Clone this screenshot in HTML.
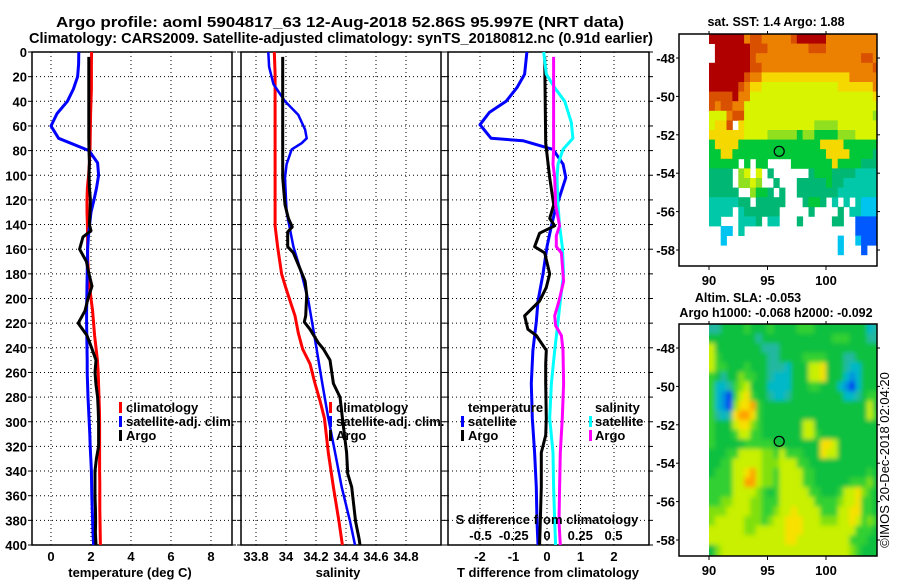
<!DOCTYPE html>
<html><head><meta charset="utf-8">
<style>
html,body{margin:0;padding:0;background:#fff;}
svg{display:block;font-family:"Liberation Sans",Arial,sans-serif;font-weight:bold;}
</style></head>
<body>
<svg id="c" width="900" height="580" viewBox="0 0 900 580" xmlns="http://www.w3.org/2000/svg">
<defs><filter id="soft" x="-5%" y="-5%" width="110%" height="110%"><feGaussianBlur stdDeviation="2.5"/></filter></defs>
<text x="340" y="27" font-size="15" text-anchor="middle" textLength="568" lengthAdjust="spacingAndGlyphs">Argo profile: aoml 5904817_63 12-Aug-2018 52.86S 95.997E (NRT data)</text>
<text x="341" y="43" font-size="15" text-anchor="middle" textLength="624" lengthAdjust="spacingAndGlyphs">Climatology: CARS2009. Satellite-adjusted climatology: synTS_20180812.nc (0.91d earlier)</text>
<g id="g"></g>
</svg>
<script>
// ---------- data ----------
// Panel 1: temperature (deg C)
const tClimDepth=[0,10,20,30,40,50,60,70,80,90,100,110,120,130,140,150,160,170,180,190,200,210,220,230,240,250,260,270,280,290,300,310,320,330,340,350,360,370,380,390,400];
const tClimVal=[2.03,2.02,2.02,2.02,2.0,1.98,1.97,1.96,1.95,1.92,1.88,1.82,1.80,1.80,1.82,1.83,1.83,1.84,1.88,1.93,2.0,2.08,2.13,2.18,2.25,2.32,2.36,2.38,2.40,2.42,2.43,2.43,2.43,2.43,2.43,2.44,2.44,2.44,2.45,2.46,2.47];
const tSatDepth=[0,10,20,30,40,50,60,70,80,90,100,110,120,130,140,150,160,170,180,190,200,210,220,230,240,250,260,270,280,290,300,310,320,330,340,350,360,370,380,390,400];
const tSatVal=[1.39,1.38,1.33,1.12,0.82,0.3,0.0,0.38,1.9,2.33,2.38,2.28,2.15,2.0,1.93,1.87,1.83,1.82,1.81,1.8,1.79,1.78,1.78,1.79,1.8,1.81,1.81,1.83,1.85,1.88,1.91,1.94,1.96,1.99,2.02,2.03,2.04,2.06,2.08,2.1,2.13];
const tArgoDepth=[4,10,20,30,40,50,60,70,80,90,100,110,120,130,140,145,150,160,170,180,190,200,210,220,230,240,250,260,270,280,290,300,310,320,330,340,350,360,370,380,390,400];
const tArgoVal=[1.89,1.89,1.89,1.89,1.89,1.89,1.89,1.89,1.9,1.92,1.9,1.92,1.97,1.95,1.92,2.0,1.6,1.43,1.77,1.9,2.05,1.85,1.7,1.36,1.8,2.03,2.25,2.2,2.25,2.33,2.36,2.38,2.38,2.38,2.27,2.2,2.2,2.2,2.22,2.23,2.22,2.25];
// Panel 2: salinity
const sClimDepth=[0,18,141,158,180,191,202,214,228,241,253,269,283,297,325,353,381,400];
const sClimVal=[33.922,33.927,33.927,33.944,33.971,33.998,34.027,34.06,34.082,34.111,34.16,34.193,34.227,34.256,34.282,34.316,34.353,34.376];
const sSatDepth=[0,12,26,40,51,63,70,74,79,91,102,130,141,158,180,202,225,241,269,297,325,353,381,400];
const sSatVal=[33.882,33.887,33.916,33.993,34.082,34.127,34.138,34.104,34.038,34.004,33.993,34.004,34.022,34.049,34.104,34.149,34.182,34.204,34.242,34.282,34.327,34.371,34.427,34.46];
const sArgoDepth=[4,102,124,135,142,146,158,163,174,186,197,214,219,225,236,241,250,269,280,297,325,342,353,381,395,400];
const sArgoVal=[33.978,33.978,33.993,34.016,34.042,34.011,34.011,34.049,34.087,34.127,34.138,34.131,34.122,34.16,34.216,34.249,34.293,34.316,34.36,34.376,34.404,34.411,34.438,34.464,34.487,34.493];
// Panel 3: differences from climatology
const dTSatDepth=[0,18,29,40,49,59,70,72,79,91,102,113,130,141,158,180,202,219,242,269,297,325,353,381,400];
const dTSatVal=[-0.60,-0.67,-0.90,-1.22,-1.72,-2.0,-1.67,-0.72,0.18,0.48,0.56,0.43,0.23,0.13,0,-0.12,-0.27,-0.32,-0.42,-0.47,-0.44,-0.37,-0.32,-0.30,-0.27];
const dTArgoDepth=[4,74,102,124,135,141,147,158,163,180,191,202,214,225,230,242,253,269,297,311,325,353,381,400];
const dTArgoVal=[-0.07,-0.04,0.08,0.2,0.08,0.23,-0.22,-0.37,-0.07,0.08,-0.02,-0.22,-0.67,-0.57,-0.32,-0.02,-0.04,-0.04,-0.02,-0.04,-0.17,-0.17,-0.2,-0.22];
const dSSatDepth=[0,18,29,40,57,70,79,91,102,124,141,158,180,202,219,242,269,297,325,353,381,400];
const dSSatVal=[-0.025,-0.005,0.058,0.133,0.183,0.195,0.12,0.083,0.075,0.083,0.095,0.115,0.125,0.1,0.083,0.058,0.033,0.02,0.045,0.05,0.058,0.065];
const dSArgoDepth=[4,79,91,102,124,141,149,158,163,186,202,214,222,230,242,269,297,325,353,381,400];
const dSArgoVal=[0.05,0.05,0.045,0.058,0.065,0.095,0.07,0.07,0.108,0.125,0.09,0.058,0.065,0.108,0.12,0.125,0.115,0.1,0.095,0.09,0.1];
// Ticks
const depthTicks=[0,20,40,60,80,100,120,140,160,180,200,220,240,260,280,300,320,340,360,380,400];
const tTicks=[0,2,4,6,8];
const sTicks=[33.8,34,34.2,34.4,34.6,34.8];
const dTTicks=[-2,-1,0,1,2];
const dSTickLabels=["-0.5","-0.25","0","0.25","0.5"];
const dSTicks=[-0.5,-0.25,0,0.25,0.5];
// Maps (0.5 deg cells, lon 90..104.5, lat rows from -46.75 downwards)
const sstRows=[
"AAAAAA899888889AAAAA888888888",
".AAAAAA99988888889998888888888",
".AAAAAA9888888888888888888998",
"AAAAAAA9988888888888888888889",
"AAAAAA98877777777777777788888",
"AAAAA987766666666666667777778",
"9999A886666666666666666666667",
"98998866666666666666666666666",
"66689966666666666666666666665",
"6779.766666666666655556666666",
"77777766665555545544445556666",
"47777444444444444447777444444",
"44774444444444444444777744443",
"44444.4.44....4444444744443333",
"3333.56.6.3......344433332222",
"3333.5565..3...33333433222222",
"33333..5443.3..33333332222222",
"2222233.33333...3443.2.2.2111",
"2222.2333333.....3....3.22111",
"22...2223.22...3.....33..0000",
"..11.2...................0000",
"..1...................1..1000",
"......................1...0..",
"............................."];
const slaRows=[
"33444454445444455544444444423",
"44444444344444444444455544433",
"74444444433344444444444444444",
"75444444443344445555444334444",
"75544454443332444778444322444",
"54344655443222444778444212444",
"52235674442222444554442102444",
"52105785443223444444444223455",
"52106889544444444444444444474",
"53238998544444444444444444475",
"54447886544444447744444444444",
"54445775544444447754444444444",
"54444455555444444448874444444",
"44455777766575554448774444444",
"44557777766677755444444444444",
"45557789766577775544444444454",
"55557799766577775544444455564",
"55557777654577777554445778654",
"55667776655577777755556778554",
"66677776655677877775557788554",
"67777766656778887776667787565",
"77777766777778887777777775554",
"77777777777778877777777755544",
"46777777777777777777777765444"];
const argoLon=96.0, argoLat=-52.86;
const mapLatTicks=[-48,-50,-52,-54,-56,-58];
const mapLonTicks=[90,95,100];

// ---------- drawing ----------
const NS="http://www.w3.org/2000/svg";
const G=document.getElementById('g');
function el(tag,attrs,parent){const e=document.createElementNS(NS,tag);for(const k in attrs)e.setAttribute(k,attrs[k]);(parent||G).appendChild(e);return e;}
function txt(x,y,s,size,anchor,parent){const t=el('text',{x:x,y:y,'font-size':size,'text-anchor':anchor||'middle'},parent);t.textContent=s;return t;}

const Y0=52, Y1=545;
const yD=d=>Y0+(d/400)*(Y1-Y0);
function lin(d0,d1,r0,r1){return v=>r0+(v-d0)/(d1-d0)*(r1-r0);}

const panels=[
 {name:'temperature-panel',x0:32,x1:232,x:lin(0,8,51,211)},
 {name:'salinity-panel',x0:241,x1:441,x:lin(33.8,34.8,256,406)},
 {name:'difference-panel',x0:448,x1:649,x:lin(0,2,547,614)}
];
const xS=lin(0,0.5,547,613.5);

panels.forEach((p,i)=>{
  const g=el('g',{});
  
  
  depthTicks.forEach(d=>{
    const l=el('line',{x1:p.x0,x2:p.x1,y1:yD(d),y2:yD(d),stroke:'#000','stroke-width':1,'stroke-dasharray':'1,3'},g);
    
    
    el('line',{x1:p.x0-4,x2:p.x0,y1:yD(d),y2:yD(d),stroke:'#000'},g);
    el('line',{x1:p.x1,x2:p.x1+4,y1:yD(d),y2:yD(d),stroke:'#000'},g);
  });
  const xt=i===0?tTicks:(i===1?sTicks:dTTicks);
  xt.forEach(v=>{
    const X=p.x(v);
    const l=el('line',{x1:X,x2:X,y1:Y0,y2:Y1,stroke:'#000','stroke-width':1,'stroke-dasharray':'1,3'},g);
    
    
    const t=txt(X,561,String(v),13,'middle',g);
    
    
  });
  const b=el('rect',{x:p.x0,y:Y0,width:p.x1-p.x0,height:Y1-Y0,fill:'none',stroke:'#000','stroke-width':1.5},g);
  
  
});
depthTicks.forEach(d=>{
  const t=txt(27,yD(d)+5,String(d),13,'end');
  
  
});
[['temperature (deg C)',130,'x-axis-title-temperature'],['salinity',338,'x-axis-title-salinity'],['T difference from climatology',548,'x-axis-title-difference']].forEach(a=>{
  const t=txt(a[1],577,a[0],13,'middle');
  
  
});

function series(depths,vals,xf,color,name,w){
  const pts=depths.map((d,k)=>xf(vals[k]).toFixed(1)+','+yD(d).toFixed(1)).join(' ');
  const pl=el('polyline',{points:pts,fill:'none',stroke:color,'stroke-width':w||3,'stroke-linejoin':'round'});
  
  
}
const P=panels;
series(tClimDepth,tClimVal,P[0].x,'#ff0000','temperature-climatology-line');
series(tSatDepth,tSatVal,P[0].x,'#0000ff','temperature-satellite-line');
series(tArgoDepth,tArgoVal,P[0].x,'#000000','temperature-argo-line');
series(sClimDepth,sClimVal,P[1].x,'#ff0000','salinity-climatology-line');
series(sSatDepth,sSatVal,P[1].x,'#0000ff','salinity-satellite-line',2.5);
series(sArgoDepth,sArgoVal,P[1].x,'#000000','salinity-argo-line');
series(dTSatDepth,dTSatVal,P[2].x,'#0000ff','t-diff-satellite-line');
series(dTArgoDepth,dTArgoVal,P[2].x,'#000000','t-diff-argo-line');
series(dSSatDepth,dSSatVal,xS,'#00ffff','s-diff-satellite-line');
series(dSArgoDepth,dSArgoVal,xS,'#ff00ff','s-diff-argo-line');

function legend(mx,tx,y,label,color,name){
  const g=el('g',{});
  
  
  if(color) el('rect',{x:mx,y:y-10,width:3,height:11,fill:color},g);
  txt(tx,y,label,13,'start',g);
}
[[119,126,'climatology','#ff0000'],[119,126,'satellite-adj. clim.','#0000ff'],[119,126,'Argo','#000000']].forEach((a,k)=>legend(a[0],a[1],412+k*14,a[2],a[3],'legend-entry'));
[[329,336,'climatology','#ff0000'],[329,336,'satellite-adj. clim.','#0000ff'],[329,336,'Argo','#000000']].forEach((a,k)=>legend(a[0],a[1],412+k*14,a[2],a[3],'legend-entry'));
legend(0,468,412,'temperature',null,'legend-heading-temperature');
legend(461,468,426,'satellite','#0000ff','legend-entry');
legend(461,468,440,'Argo','#000000','legend-entry');
legend(0,595,412,'salinity',null,'legend-heading-salinity');
legend(589,595,426,'satellite','#00ffff','legend-entry');
legend(589,595,440,'Argo','#ff00ff','legend-entry');
const sdl=txt(547,524,'S difference from climatology',13,'middle');


dSTicks.forEach((v,k)=>{
  const t=txt(xS(v),540,dSTickLabels[k],13,'middle');
  
  
});

// maps
const MX0=679,MX1=877;
const lonX=lin(90,100,709,826);
const sstCol={'0':'#0058ff','1':'#00c4f0','2':'#00c8a8','3':'#00b874','4':'#00c838','5':'#90e020','6':'#d8f400','7':'#f4d800','8':'#ec8000','9':'#d85000','A':'#b00000'};
const slaCol={'0':'#0030f0','1':'#0090e0','2':'#00b8c8','3':'#20b8a0','4':'#10c040','5':'#30d030','6':'#80e010','7':'#c8f000','8':'#f8e000','9':'#ffa000'};
function map(top,rows,cols,name,titles,smooth){
  const latY=lin(-48,-58,top+24,top+216);
  const g=el('g',{});
  
  
  const clip='clip'+top;
  const cp=el('clipPath',{id:clip},g);
  el('rect',{x:lonX(90),y:top,width:MX1-lonX(90),height:232},cp);
  const cg0=el('g',{'clip-path':'url(#'+clip+')'},g);
  const cg=smooth?el('g',{filter:'url(#soft)'},cg0):cg0;
  rows.forEach((r,i)=>{
    const latTop=-46.75-0.5*i;
    for(let j=0;j<29;j++){
      let c=r[j];
      if(smooth){ if(!c) c=r[r.length-1]; }
      if(!c||c==='.'||!cols[c]) continue;
      const lon=90+0.5*j;
      let x=lonX(lon),x2=lonX(lon+0.5),y=latY(latTop),y2=latY(latTop-0.5);
      if(smooth){ if(j===0)x-=8; if(j===28)x2+=8; if(i===0)y-=8; if(i===rows.length-1)y2+=8; }
      const rc=el('rect',{x:x.toFixed(1),y:y.toFixed(1),width:(x2-x+0.4).toFixed(1),height:(y2-y+0.4).toFixed(1),fill:cols[c]},cg);
      
      
    }
  });
  const f=el('rect',{x:MX0,y:top,width:MX1-MX0,height:232,fill:'none',stroke:'#000','stroke-width':1.5},g);
  
  
  mapLatTicks.forEach(l=>{
    const Y=latY(l);
    el('line',{x1:MX0-3,x2:MX0,y1:Y,y2:Y,stroke:'#000'},g);
    el('line',{x1:MX1,x2:MX1+3,y1:Y,y2:Y,stroke:'#000'},g);
    const t=txt(675,Y+5,String(l),13,'end',g);
    
    
  });
  mapLonTicks.forEach(l=>{
    const X=lonX(l);
    el('line',{x1:X,x2:X,y1:top-3,y2:top,stroke:'#000'},g);
    el('line',{x1:X,x2:X,y1:top+232,y2:top+236,stroke:'#000'},g);
    const t=txt(X,top+251,String(l),13,'middle',g);
    
    
  });
  const c=el('circle',{cx:lonX(argoLon),cy:latY(argoLat),r:5,fill:'none',stroke:'#000','stroke-width':1.2},g);
  
  
  titles.forEach(tt=>{
    const t=txt(tt[1],tt[2],tt[0],12.5,'middle',g);
    
    
  });
}
map(34,sstRows,sstCol,'sst-map',[['sat. SST: 1.4 Argo: 1.88',776,26]],false);
map(324,slaRows,slaCol,'sla-map',[['Altim. SLA: -0.053',748,302],['Argo h1000: -0.068 h2000: -0.092',776,317]],true);
const cr=txt(0,0,'©IMOS 20-Dec-2018 02:04:20',13,'middle');
cr.setAttribute('transform','translate(889,460) rotate(-90)');
cr.setAttribute('font-weight','normal');


</script>
</body></html>
